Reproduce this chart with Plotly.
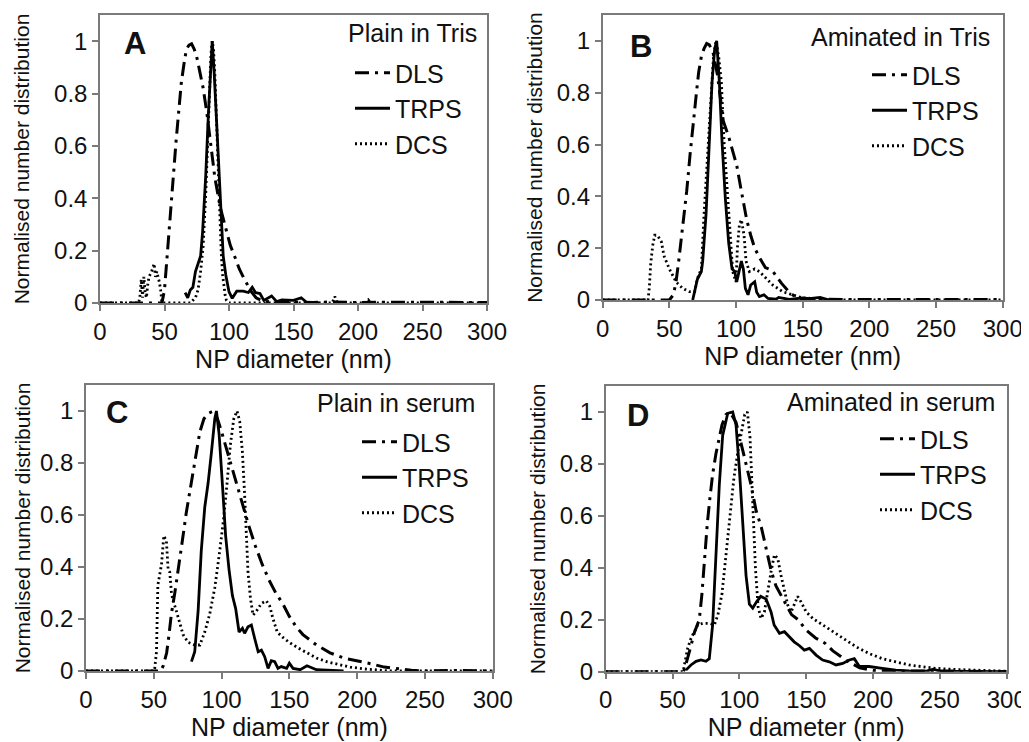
import plotly.graph_objects as go

# ---------------- data ----------------
# Panel A: Plain in Tris
A_DLS_X = [0, 10, 20, 30, 40, 48, 50, 51.5, 53, 55, 57, 59, 61, 63, 65, 67, 69, 71, 73, 75, 77.5, 80, 83, 86, 89,
           93, 97, 101, 105, 108, 111, 114, 117, 121, 126, 132, 140, 150, 165, 180, 200, 225, 250, 275, 300]
A_DLS_Y = [0, 0, 0, 0, 0, 0, 0.05, 0.15, 0.23, 0.36, 0.49, 0.62, 0.73, 0.84, 0.91, 0.97, 0.985, 0.99, 0.97, 0.94,
           0.88, 0.82, 0.72, 0.6, 0.48, 0.37, 0.29, 0.22, 0.17, 0.13, 0.1, 0.07, 0.045, 0.02, 0.008, 0.004, 0.002,
           0.003, 0.002, 0.004, 0.002, 0.003, 0.002, 0.003, 0.002]
A_TRPS_X = [66, 68, 70, 72, 74, 76, 78, 79.5, 81, 82, 84, 86, 87, 88.5, 90, 91.5, 93.5, 95.5, 97.5, 100, 102.5,
            104, 106, 111, 115, 118, 120.5, 124, 127, 133, 137, 141, 150, 156, 160, 170]
A_TRPS_Y = [0.04, 0.02, 0.05, 0.06, 0.12, 0.15, 0.18, 0.27, 0.38, 0.49, 0.72, 0.91, 1.0, 0.88, 0.72, 0.57, 0.34,
            0.18, 0.107, 0.043, 0.018, 0.03, 0.045, 0.045, 0.04, 0.06, 0.04, 0.036, 0.01, 0.027, 0.005, 0.012,
            0.01, 0.02, 0.003, 0.0]
A_DCS_X = [0, 20, 30, 31, 32, 33, 34, 35, 36, 37, 38, 40, 42, 43, 44, 46, 47, 48, 50, 60, 70, 74, 76, 78, 80,
           82, 84, 85, 86, 87, 88, 89, 90, 91, 92, 93, 94, 95, 96, 97, 98, 100, 120, 150, 180, 182, 184, 206,
           208, 210, 240, 270, 300]
A_DCS_Y = [0, 0, 0, 0.03, 0.09, 0.02, 0.1, 0.04, 0.02, 0.07, 0.1, 0.12, 0.15, 0.1, 0.12, 0.08, 0.05, 0.0, 0, 0,
           0, 0.02, 0.05, 0.12, 0.22, 0.42, 0.68, 0.84, 0.95, 1.0, 0.97, 0.88, 0.74, 0.58, 0.43, 0.3, 0.19, 0.11,
           0.06, 0.03, 0.01, 0, 0, 0, 0, 0.025, 0, 0, 0.012, 0, 0, 0, 0]

# Panel B: Aminated in Tris
B_DLS_X = [0, 10, 20, 30, 40, 50, 53, 55, 57, 59, 61, 63, 65.5, 68, 70.5, 72, 74, 76, 78, 80, 83, 86, 88, 90.5,
           94.5, 97, 100.5, 104, 108, 111, 114, 118, 122, 127, 134, 140, 145, 150, 160, 180, 200, 230, 260, 300]
B_DLS_Y = [0, 0, 0, 0, 0, 0, 0.02, 0.07, 0.15, 0.24, 0.32, 0.42, 0.56, 0.7, 0.81, 0.88, 0.94, 0.97, 0.99, 0.985,
           0.95, 0.87, 0.78, 0.69, 0.63, 0.58, 0.52, 0.42, 0.31, 0.25, 0.2, 0.16, 0.125, 0.115, 0.065, 0.03, 0.01,
           0.004, 0.003, 0.002, 0.002, 0.003, 0.002, 0.002]
B_TRPS_X = [67.5, 69, 71, 74, 75, 77.5, 80, 82, 84, 85.5, 87.5, 89.5, 92, 94.5, 97, 99, 100.5, 102.5, 104, 105.5,
            107, 109, 111, 114, 115.5, 117.5, 121, 124, 130, 132, 140, 150, 155, 163, 170]
B_TRPS_Y = [0.0, 0.03, 0.08, 0.11, 0.15, 0.33, 0.61, 0.84, 0.97, 1.0, 0.84, 0.61, 0.39, 0.22, 0.12, 0.11, 0.07,
            0.12, 0.15, 0.12, 0.045, 0.02, 0.058, 0.07, 0.03, 0.013, 0.02, 0.006, 0.003, 0.01, 0.002, 0.008,
            0.005, 0.01, 0.0]
B_DCS_X = [0, 20, 34, 35, 36, 37.5, 39, 41, 44, 46, 50, 55, 60, 65, 69, 71, 74, 76, 79, 81, 83, 85, 87, 89, 91,
           94, 96, 97.5, 100, 101, 102.5, 104, 106, 107.5, 110, 114, 117.5, 122.5, 127.5, 135, 142.5, 150, 160,
           170, 200, 240, 300]
B_DCS_Y = [0, 0, 0, 0.05, 0.14, 0.21, 0.25, 0.25, 0.225, 0.17, 0.12, 0.07, 0.045, 0.032, 0.032, 0.083, 0.12,
           0.33, 0.58, 0.78, 0.93, 1.0, 0.94, 0.84, 0.61, 0.38, 0.2, 0.11, 0.07, 0.2, 0.29, 0.31, 0.25, 0.15,
           0.11, 0.12, 0.11, 0.083, 0.058, 0.032, 0.02, 0.008, 0.005, 0.0, 0.0, 0.0, 0.0]

# Panel C: Plain in serum
C_DLS_X = [0, 10, 20, 30, 40, 50, 55, 57, 59.5, 61, 63, 65.5, 68, 70.5, 74, 78, 81.5, 84, 87, 90, 94, 97, 100,
           105, 110, 115, 120, 125, 130, 135, 140, 145, 150, 155, 160, 170, 180, 190, 200, 210, 220, 230, 240,
           250, 270, 300]
C_DLS_Y = [0, 0, 0, 0, 0, 0, 0, 0.02, 0.07, 0.13, 0.22, 0.3, 0.4, 0.48, 0.61, 0.73, 0.85, 0.92, 0.97, 0.99, 1.0,
           0.97, 0.92, 0.83, 0.74, 0.64, 0.56, 0.48, 0.41, 0.35, 0.3, 0.26, 0.21, 0.17, 0.14, 0.1, 0.07, 0.05,
           0.04, 0.028, 0.015, 0.008, 0.003, 0.0, 0.002, 0.0]
C_TRPS_X = [77.8, 80.2, 82.7, 85, 87.6, 90, 92.5, 95, 96.2, 98.2, 100.6, 103, 105.5, 108, 110.4, 112.9, 115.4,
            117, 119.5, 122, 124.4, 127, 129.4, 131.8, 134.3, 136.7, 139.2, 141.6, 144, 148, 150, 152.7, 158,
            163, 170, 180, 190]
C_TRPS_Y = [0.036, 0.074, 0.23, 0.46, 0.63, 0.72, 0.84, 0.97, 1.0, 0.91, 0.72, 0.52, 0.39, 0.29, 0.24, 0.15,
            0.164, 0.145, 0.17, 0.177, 0.126, 0.074, 0.08, 0.055, 0.01, 0.04, 0.036, 0.01, 0.017, 0.01, 0.03,
            0.01, 0.005, 0.02, 0.005, 0.003, 0.0]
C_DCS_X = [0, 30, 50, 50.7, 52, 53, 54.4, 55.7, 57.4, 59.3, 60.6, 61.8, 63, 64.3, 66.7, 69.2, 71.6, 75.3, 80.2,
           84, 87.6, 91.3, 95, 98.6, 101.6, 104, 106.5, 109, 111.4, 113.4, 115.4, 117, 118.3, 119.5, 121.3, 123.2,
           125.7, 129.4, 133, 135.5, 138, 141, 145, 150, 156, 163, 170, 178, 186, 195, 205, 215, 225, 260, 300]
C_DCS_Y = [0, 0, 0, 0.01, 0.074, 0.33, 0.37, 0.41, 0.52, 0.5, 0.39, 0.38, 0.3, 0.27, 0.23, 0.18, 0.14, 0.11, 0.1,
           0.1, 0.15, 0.22, 0.32, 0.46, 0.59, 0.72, 0.87, 0.97, 1.0, 0.96, 0.84, 0.68, 0.52, 0.38, 0.28, 0.215,
           0.23, 0.26, 0.27, 0.25, 0.2, 0.15, 0.13, 0.11, 0.09, 0.07, 0.05, 0.035, 0.025, 0.015, 0.008, 0.003,
           0.0, 0.0, 0.0]

# Panel D: Aminated in serum
D_DLS_X = [0, 10, 20, 30, 40, 50, 58, 59, 61.3, 63.8, 66.3, 68.8, 70, 72, 74, 76, 78, 80, 82.5, 85, 87, 90, 93,
           97.5, 101, 105, 108.7, 112.5, 116.5, 120, 123.7, 127.4, 131, 135, 139, 144, 150, 157, 164, 170, 174,
           181, 190, 200, 220, 250, 300]
D_DLS_Y = [0, 0, 0, 0, 0, 0, 0, 0.01, 0.05, 0.1, 0.15, 0.18, 0.2, 0.3, 0.44, 0.57, 0.67, 0.76, 0.84, 0.9, 0.95,
           0.99, 1.0, 0.96, 0.885, 0.81, 0.72, 0.62, 0.555, 0.475, 0.39, 0.33, 0.295, 0.26, 0.22, 0.2, 0.16, 0.13,
           0.11, 0.08, 0.065, 0.04, 0.015, 0.005, 0.002, 0.003, 0.0]
D_TRPS_X = [60, 63.8, 67.6, 71.3, 75, 77.5, 80, 82.5, 85, 87.5, 91.3, 95, 97.5, 100, 102.5, 105, 107.5, 110, 113,
            116, 120, 123.7, 126, 130, 133.7, 137.4, 141, 145, 148.6, 152.4, 157.4, 162.3, 167.3, 172.3, 177.3,
            182.3, 186, 189.8, 197, 207, 217, 227, 240, 245, 250, 270, 300]
D_TRPS_Y = [0.006, 0.026, 0.04, 0.045, 0.04, 0.05, 0.18, 0.46, 0.72, 0.91, 0.995, 1.0, 0.95, 0.78, 0.565, 0.37,
            0.26, 0.245, 0.27, 0.29, 0.28, 0.23, 0.18, 0.148, 0.154, 0.135, 0.115, 0.1, 0.083, 0.09, 0.064, 0.045,
            0.038, 0.026, 0.032, 0.045, 0.05, 0.02, 0.02, 0.013, 0.006, 0.003, 0.002, 0.01, 0.002, 0.001, 0.0]
D_DCS_X = [0, 30, 58, 58.9, 61.3, 63.8, 66.3, 68.8, 72.6, 77.6, 81.3, 84, 87, 90, 93, 96, 99, 102, 104, 106, 108,
           110, 112, 114, 116.2, 118.7, 121.2, 123.7, 126.2, 128.7, 131.2, 133.7, 136.2, 138.7, 141, 143.6, 146,
           150, 155, 162.3, 170, 177.3, 187.3, 197, 207, 217, 227, 237, 247, 259.6, 272, 287, 300]
D_DCS_Y = [0, 0, 0, 0.026, 0.09, 0.128, 0.154, 0.18, 0.186, 0.186, 0.18, 0.22, 0.3, 0.45, 0.6, 0.75, 0.85, 0.93,
           0.99, 1.0, 0.9, 0.65, 0.4, 0.25, 0.205, 0.23, 0.31, 0.385, 0.45, 0.436, 0.37, 0.31, 0.257, 0.23, 0.257,
           0.29, 0.27, 0.23, 0.205, 0.18, 0.154, 0.128, 0.096, 0.07, 0.05, 0.038, 0.026, 0.019, 0.013, 0.009,
           0.006, 0.004, 0.002]

PANEL_TITLES = ["Plain in Tris", "Aminated in Tris", "Plain in serum", "Aminated in serum"]
PANEL_LETTERS = ["A", "B", "C", "D"]
SERIES = ["DLS", "TRPS", "DCS"]
X_TICKS = [0, 50, 100, 150, 200, 250, 300]
Y_TICKS = [0, 0.2, 0.4, 0.6, 0.8, 1]
Y_TICKTEXT = ["0", "0.2", "0.4", "0.6", "0.8", "1"]
X_TITLE = "NP diameter (nm)"
Y_TITLE = "Normalised number distribution"

panels = [
    (A_DLS_X, A_DLS_Y, A_TRPS_X, A_TRPS_Y, A_DCS_X, A_DCS_Y),
    (B_DLS_X, B_DLS_Y, B_TRPS_X, B_TRPS_Y, B_DCS_X, B_DCS_Y),
    (C_DLS_X, C_DLS_Y, C_TRPS_X, C_TRPS_Y, C_DCS_X, C_DCS_Y),
    (D_DLS_X, D_DLS_Y, D_TRPS_X, D_TRPS_Y, D_DCS_X, D_DCS_Y),
]

# ---------------- layout geometry ----------------
OFF = 8                      # page body margin of the html page
W, H = 1029 - OFF, 742 - OFF  # figure size so that it fills the window


def fx(px):
    return (px - OFF) / W


def fy(py):
    return 1 - (py - OFF) / H


# screen-pixel boxes (left, right, top, bottom) of each plot area
boxes = [(100, 487, 15, 303), (602.7, 1002.7, 15, 300), (86, 492.7, 385, 671), (605.7, 1006.7, 386, 671.7)]
legend_pos = [(350, 50), (867, 52), (357, 419), (875, 416)]
title_pos = [(479, 33), (992, 37), (477, 403), (997, 402)]
letter_pos = [(27, 0.99), (28.7, 0.98), (22.6, 0.996), (24, 0.985)]
ytitle_standoff = [19, 8, 4, 8]

FONT = "Liberation Sans, Arial, sans-serif"
styles = {
    "DLS": dict(color="black", width=3, dash="14px,6px,3px,6px"),
    "TRPS": dict(color="black", width=2.8),
    "DCS": dict(color="black", width=2.8, dash="2px,3px"),
}

fig = go.Figure()
layout = dict(width=W, height=H, margin=dict(l=0, r=0, t=0, b=0, autoexpand=False), autosize=False,
              paper_bgcolor="white", plot_bgcolor="white", font=dict(family=FONT, color="#111"),
              annotations=[])

for i, data in enumerate(panels):
    n = "" if i == 0 else str(i + 1)
    xa, ya = "x" + n, "y" + n
    leg = "legend" + n
    for k, name in enumerate(SERIES):
        fig.add_trace(go.Scatter(x=data[2 * k], y=data[2 * k + 1], mode="lines", name=name,
                                 line=styles[name], xaxis=xa, yaxis=ya, legend=leg,
                                 showlegend=True, hoverinfo="skip"))
    l, r, t, b = boxes[i]
    axline = dict(showline=True, mirror=True, linecolor="#7a7a7a", linewidth=1.5, ticks="outside",
                  ticklen=6, tickwidth=1.5, tickcolor="#7a7a7a", showgrid=False, zeroline=False,
                  automargin=False, tickfont=dict(size=24, family=FONT, color="#111"))
    layout["xaxis" + n] = dict(domain=[fx(l), fx(r)], anchor=ya, range=[0, 300], tickvals=X_TICKS,
                               title=dict(text=X_TITLE, font=dict(size=25, family=FONT, color="#111"), standoff=0),
                               **axline)
    layout["yaxis" + n] = dict(domain=[fy(b), fy(t)], anchor=xa, range=[0, 1.1], tickvals=Y_TICKS,
                               ticktext=Y_TICKTEXT,
                               title=dict(text=Y_TITLE, font=dict(size=21, family=FONT, color="#111"),
                                          standoff=ytitle_standoff[i]),
                               **axline)
    lx, ly = legend_pos[i]
    layout[leg] = dict(x=fx(lx), y=fy(ly), xanchor="left", yanchor="top", bgcolor="rgba(0,0,0,0)",
                       font=dict(size=25, family=FONT, color="#111"), traceorder="normal",
                       itemwidth=35, tracegroupgap=0)
    tx, ty = title_pos[i]
    layout["annotations"].append(dict(text=PANEL_TITLES[i], x=fx(tx), y=fy(ty), xref="paper", yref="paper",
                                      xanchor="right", yanchor="middle", showarrow=False,
                                      font=dict(size=25, family=FONT, color="#111")))
    px, py = letter_pos[i]
    layout["annotations"].append(dict(text="<b>" + PANEL_LETTERS[i] + "</b>", x=px, y=py, xref=xa, yref=ya,
                                      xanchor="center", yanchor="middle", showarrow=False,
                                      font=dict(size=31, family=FONT, color="#111")))

fig.update_layout(**layout)
fig.write_html("out.html")
